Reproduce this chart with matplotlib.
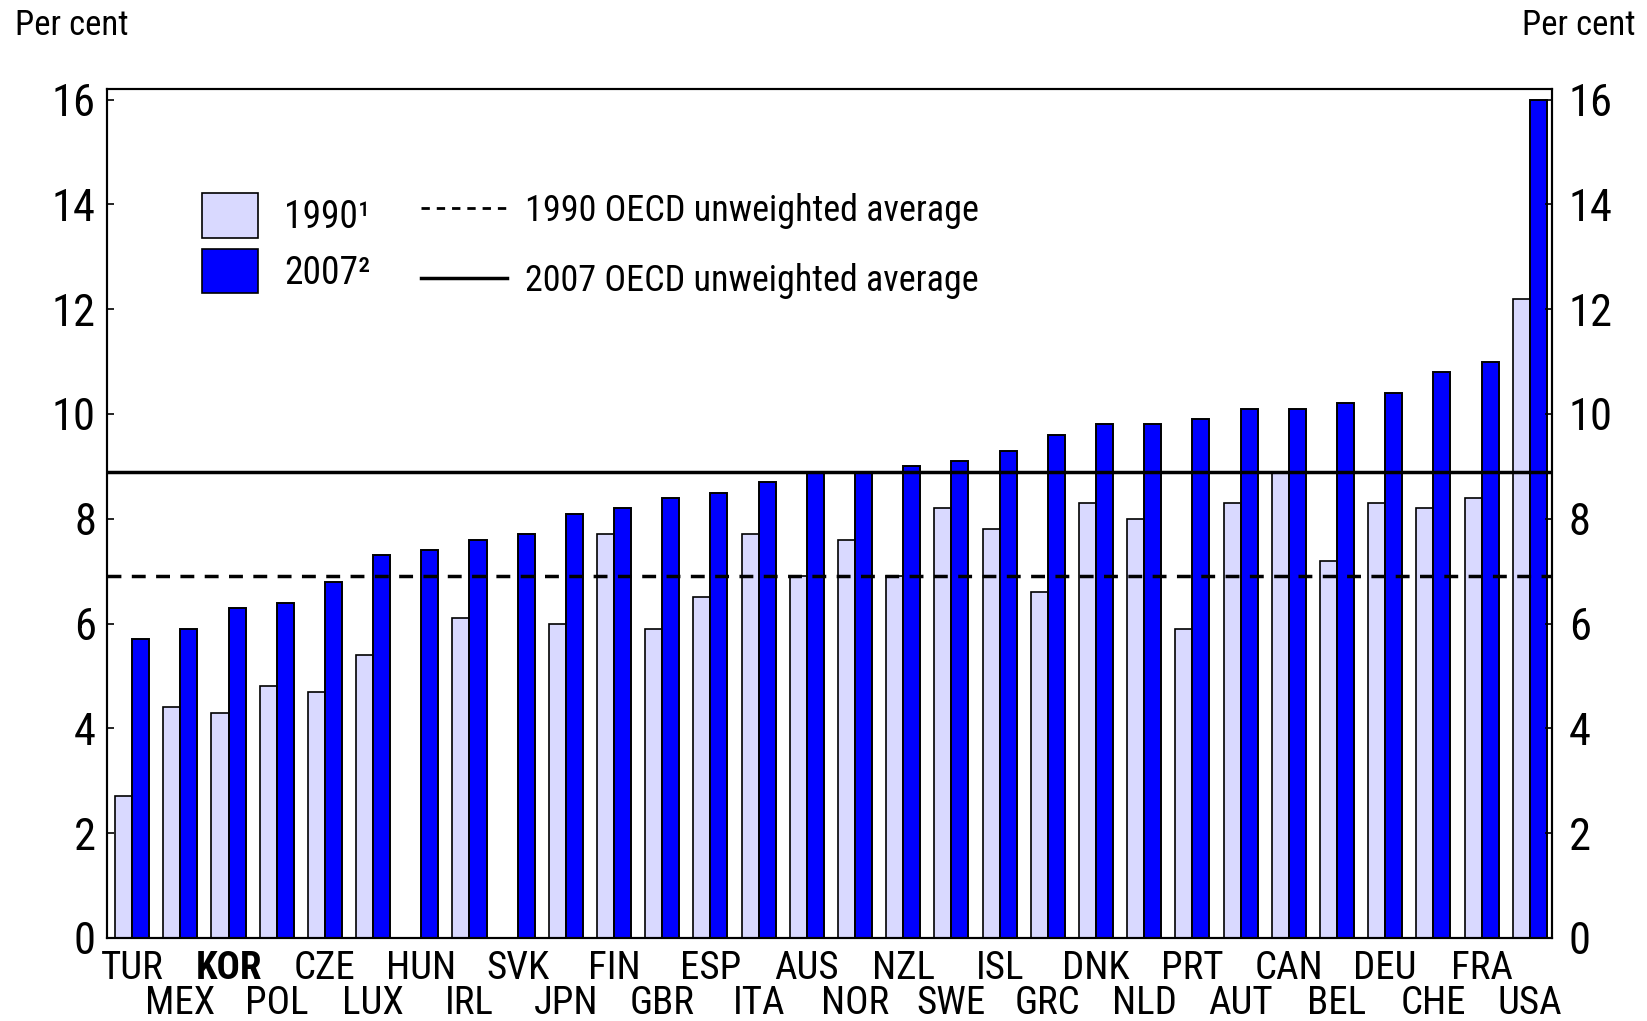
import matplotlib
matplotlib.use("Agg")
import matplotlib.pyplot as plt
from matplotlib.patches import Patch
from matplotlib.lines import Line2D
import numpy as np

plt.rcParams['font.family'] = ['Roboto Condensed', 'DejaVu Sans']

countries = ["TUR", "MEX", "KOR", "POL", "CZE", "LUX", "HUN", "IRL", "SVK", "JPN",
             "FIN", "GBR", "ESP", "ITA", "AUS", "NOR", "NZL", "SWE", "ISL", "GRC",
             "DNK", "NLD", "PRT", "AUT", "CAN", "BEL", "DEU", "CHE", "FRA", "USA"]
y1990 = [2.7, 4.4, 4.3, 4.8, 4.7, 5.4, np.nan, 6.1, np.nan, 6.0,
         7.7, 5.9, 6.5, 7.7, 6.9, 7.6, 6.9, 8.2, 7.8, 6.6,
         8.3, 8.0, 5.9, 8.3, 8.9, 7.2, 8.3, 8.2, 8.4, 12.2]
y2007 = [5.7, 5.9, 6.3, 6.4, 6.8, 7.3, 7.4, 7.6, 7.7, 8.1,
         8.2, 8.4, 8.5, 8.7, 8.9, 8.9, 9.0, 9.1, 9.3, 9.6,
         9.8, 9.8, 9.9, 10.1, 10.1, 10.2, 10.4, 10.8, 11.0, 16.0]
avg1990 = 6.9
avg2007 = 8.9

light = "#D9D9FF"
blue = "#0000FF"

fig = plt.figure(figsize=(16.47, 10.21), dpi=100)
ax = fig.add_axes([0.065, 0.0813, 0.8773, 0.8315])

x = np.arange(len(countries))
w = 0.353
ax.bar(x - w / 2, y1990, w, color=light, edgecolor="black", linewidth=1.2, zorder=2)
ax.bar(x + w / 2, y2007, w, color=blue, edgecolor="black", linewidth=1.4, zorder=2)

ax.axhline(avg1990, color="black", linewidth=2.5, dashes=(4, 3), zorder=3)
ax.axhline(avg2007, color="black", linewidth=2.5, zorder=3)

ax.set_xlim(-0.52, 29.46)
ax.set_ylim(0, 16.2)
ax.set_yticks(range(0, 17, 2))
ax.tick_params(axis="y", direction="in", length=5, width=1.2, labelsize=32, pad=8)

# right-hand axis with the same scale
ax2 = ax.twinx()
ax2.set_ylim(ax.get_ylim())
ax2.set_yticks(range(0, 17, 2))
ax2.tick_params(axis="y", direction="in", length=5, width=1.2, labelsize=32, pad=12)

# staggered country labels: even ones on the first row, odd ones below
ax.set_xticks(x[::2])
ax.set_xticklabels(countries[::2], fontsize=28)
ax.set_xticks(x[1::2], minor=True)
ax.set_xticklabels(countries[1::2], minor=True, fontsize=28)
ax.tick_params(axis="x", which="major", length=0, pad=9)
ax.tick_params(axis="x", which="minor", length=0, pad=34)
ax.get_xticklabels()[1].set_fontweight("bold")

for a in (ax, ax2):
    for s in a.spines.values():
        s.set_linewidth(1.5)

fig.text(0.009, 0.975, "Per cent", fontsize=25, ha="left", va="center")
fig.text(0.993, 0.975, "Per cent", fontsize=25, ha="right", va="center")

bar_handles = [Patch(facecolor=light, edgecolor="black", linewidth=1.2),
               Patch(facecolor=blue, edgecolor="black", linewidth=1.2)]
leg1 = ax2.legend(bar_handles, ["1990¹", "2007²"], loc="upper left",
                  bbox_to_anchor=(0.055, 0.895), frameon=False, fontsize=27,
                  handlelength=1.5, handleheight=1.45, handletextpad=0.7,
                  labelspacing=0.3, borderaxespad=0)
ax2.add_artist(leg1)

line_handles = [Line2D([], [], color="black", linewidth=2, dashes=(3, 2.5)),
                Line2D([], [], color="black", linewidth=2.5)]
ax2.legend(line_handles, ["1990 OECD unweighted average", "2007 OECD unweighted average"],
           loc="upper left", bbox_to_anchor=(0.207, 0.895), frameon=False, fontsize=26,
           handlelength=2.4, handletextpad=0.5, labelspacing=0.95, borderaxespad=0)

plt.savefig("out.png", dpi=100)
